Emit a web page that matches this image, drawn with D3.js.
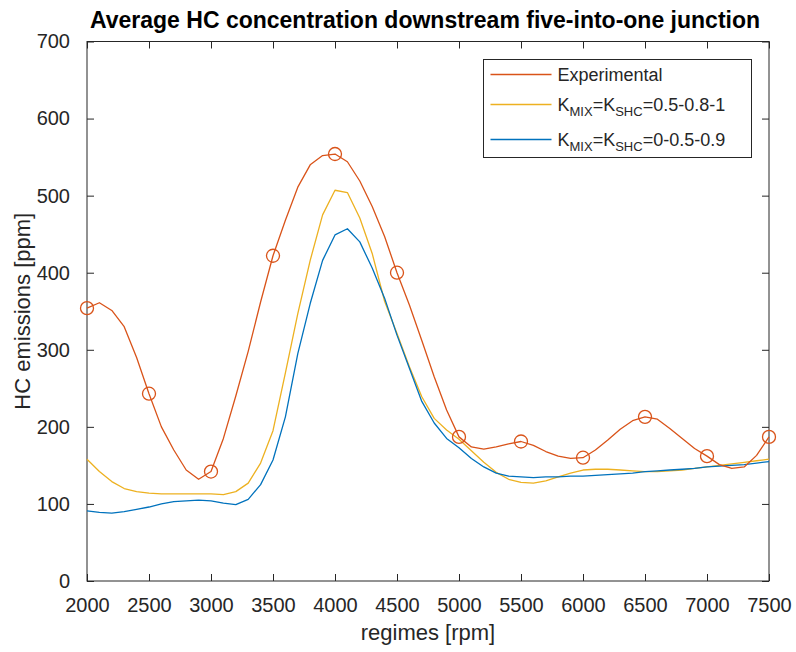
<!DOCTYPE html>
<html>
<head>
<meta charset="utf-8">
<script src="https://cdn.jsdelivr.net/npm/d3@7"></script>
<style>
    html, body { margin: 0; padding: 0; background: #fff; }
    #chart-hc { width: 796px; height: 652px; }
    text { font-family: "Liberation Sans", Arial, Helvetica, sans-serif; fill: #262626; }
</style>
</head>
<body>
<div id="chart-hc"></div>
<script>
(function () {

    var CONTAINER = "chart-hc";

    /* ── data ─────────────────────────────────────────────────────── */
    var RPM = d3.range(2000, 7501, 100);

    var EXPERIMENTAL = [
        354, 361, 351, 330, 290, 243, 200, 170, 144, 132,
        142, 185, 240, 298, 362, 422, 468, 511, 540, 552,
        554, 544, 519, 486, 447, 400, 358, 312, 265, 222,
        187, 174, 171, 174, 178, 181, 176, 168, 162, 159,
        160, 170, 183, 197, 208, 213, 210, 198, 185, 172,
        162, 151, 146, 148, 163, 187
    ];

    var K_05_08_1 = [
        158, 142, 129, 120, 116, 114, 113, 113, 113, 113,
        113, 112, 116, 127, 153, 195, 270, 347, 416, 475,
        507, 504, 471, 425, 363, 321, 278, 239, 211, 196,
        184, 169, 154, 141, 132, 128, 127, 130, 135, 140,
        144, 145, 145, 144, 143, 142, 142, 143, 144, 146,
        148, 150, 152, 154, 156, 158
    ];

    var K_0_05_09 = [
        91, 89, 88, 90, 93, 96, 100, 103, 104, 105,
        104, 101, 99, 106, 125, 157, 213, 295, 360, 416,
        449, 457, 440, 406, 367, 319, 276, 233, 205, 185,
        173, 159, 148, 140, 136, 135, 134, 135, 135, 136,
        136, 137, 138, 139, 140, 142, 143, 144, 145, 146,
        148, 149, 150, 151, 153, 155
    ];

    var X_TICKS = [2000, 2500, 3000, 3500, 4000, 4500, 5000, 5500, 6000, 6500, 7000, 7500];
    var Y_TICKS = [0, 100, 200, 300, 400, 500, 600, 700];

    var SERIES = [
        { values: K_05_08_1,    color: "#EDB120", label: ["K", "MIX", "=K", "SHC", "=0.5-0.8-1"] },
        { values: K_0_05_09,    color: "#0072BD", label: ["K", "MIX", "=K", "SHC", "=0-0.5-0.9"] },
        { values: EXPERIMENTAL, color: "#D95319", label: ["Experimental"], markers: true }
    ];

    /* ── layout ───────────────────────────────────────────────────── */
    var W = 796, H = 652;
    var margin = { top: 41.5, right: 27, bottom: 71, left: 87 };
    var iW = W - margin.left - margin.right;
    var iH = H - margin.top - margin.bottom;

    var svg = d3.select("#" + CONTAINER)
        .append("svg")
        .attr("width",  W)
        .attr("height", H);

    var g = svg.append("g")
        .attr("transform", "translate(" + margin.left + "," + margin.top + ")");

    var xScale = d3.scaleLinear().domain([2000, 7500]).range([0, iW]);
    var yScale = d3.scaleLinear().domain([0, 700]).range([iH, 0]);

    /* ── axes (full box, ticks inward) ────────────────────────────── */
    var TICK = 7;

    function styleAxis(sel) {
        sel.select(".domain").remove();
        sel.selectAll("line").attr("stroke", "#262626").attr("stroke-width", 1);
        sel.selectAll("text")
            .style("font-size", "20px")
            .style("fill", "#262626");
    }

    g.append("g")
        .attr("transform", "translate(0," + iH + ")")
        .call(d3.axisBottom(xScale).tickValues(X_TICKS).tickSize(-TICK).tickPadding(17).tickFormat(d3.format("d")))
        .call(styleAxis);

    g.append("g")
        .call(d3.axisTop(xScale).tickValues(X_TICKS).tickSize(-TICK).tickFormat(""))
        .call(styleAxis);

    g.append("g")
        .call(d3.axisLeft(yScale).tickValues(Y_TICKS).tickSize(-TICK).tickPadding(17))
        .call(styleAxis);

    g.append("g")
        .attr("transform", "translate(" + iW + ",0)")
        .call(d3.axisRight(yScale).tickValues(Y_TICKS).tickSize(-TICK).tickFormat(""))
        .call(styleAxis);

    g.append("rect")
        .attr("width", iW).attr("height", iH)
        .attr("fill", "none")
        .attr("stroke", "#262626")
        .attr("stroke-width", 1);

    /* ── lines ────────────────────────────────────────────────────── */
    var line = d3.line()
        .x(function (d) { return xScale(d[0]); })
        .y(function (d) { return yScale(d[1]); });

    SERIES.forEach(function (s) {
        var pts = RPM.map(function (r, i) { return [r, s.values[i]]; });

        g.append("path")
            .datum(pts)
            .attr("d", line)
            .attr("fill", "none")
            .attr("stroke", s.color)
            .attr("stroke-width", 1.3)
            .attr("stroke-linejoin", "round");

        if (s.markers) {
            g.selectAll(".marker")
                .data(pts.filter(function (d) { return d[0] % 500 === 0; }))
                .enter()
                .append("circle")
                .attr("class", "marker")
                .attr("cx", function (d) { return xScale(d[0]); })
                .attr("cy", function (d) { return yScale(d[1]); })
                .attr("r", 6.5)
                .attr("fill", "none")
                .attr("stroke", s.color)
                .attr("stroke-width", 1.3);
        }
    });

    /* ── labels ───────────────────────────────────────────────────── */
    svg.append("text")
        .attr("x", margin.left + iW / 2 - 3).attr("y", 28)
        .attr("text-anchor", "middle")
        .style("font-size", "23px")
        .style("font-weight", "bold")
        .style("fill", "#000")
        .text("Average HC concentration downstream five-into-one junction");

    svg.append("text")
        .attr("x", margin.left + iW / 2).attr("y", 640)
        .attr("text-anchor", "middle")
        .style("font-size", "22px")
        .text("regimes [rpm]");

    svg.append("text")
        .attr("transform", "translate(30," + (margin.top + iH / 2) + ") rotate(-90)")
        .attr("text-anchor", "middle")
        .style("font-size", "22px")
        .text("HC emissions [ppm]");

    /* ── legend ───────────────────────────────────────────────────── */
    var legend = svg.append("g").attr("transform", "translate(483.5,59.5)");

    legend.append("rect")
        .attr("width", 268).attr("height", 98)
        .attr("fill", "#fff")
        .attr("stroke", "#262626")
        .attr("stroke-width", 1);

    var legendOrder = [SERIES[2], SERIES[0], SERIES[1]];
    var rowY = [15, 45, 80];

    legendOrder.forEach(function (s, i) {
        var row = legend.append("g").attr("transform", "translate(0," + rowY[i] + ")");
        row.append("line")
            .attr("x1", 7).attr("x2", 68)
            .attr("stroke", s.color)
            .attr("stroke-width", 1.3);

        var t = row.append("text")
            .attr("x", 74).attr("y", 6.5)
            .style("font-size", "18px");

        s.label.forEach(function (part, j) {
            var sub = s.label.length > 1 && j % 2 === 1;
            t.append("tspan")
                .attr("dy", sub ? 5 : (j > 0 ? -5 : 0))
                .style("font-size", sub ? "13px" : "18px")
                .text(part);
        });
    });

}());
</script>
</body>
</html>
